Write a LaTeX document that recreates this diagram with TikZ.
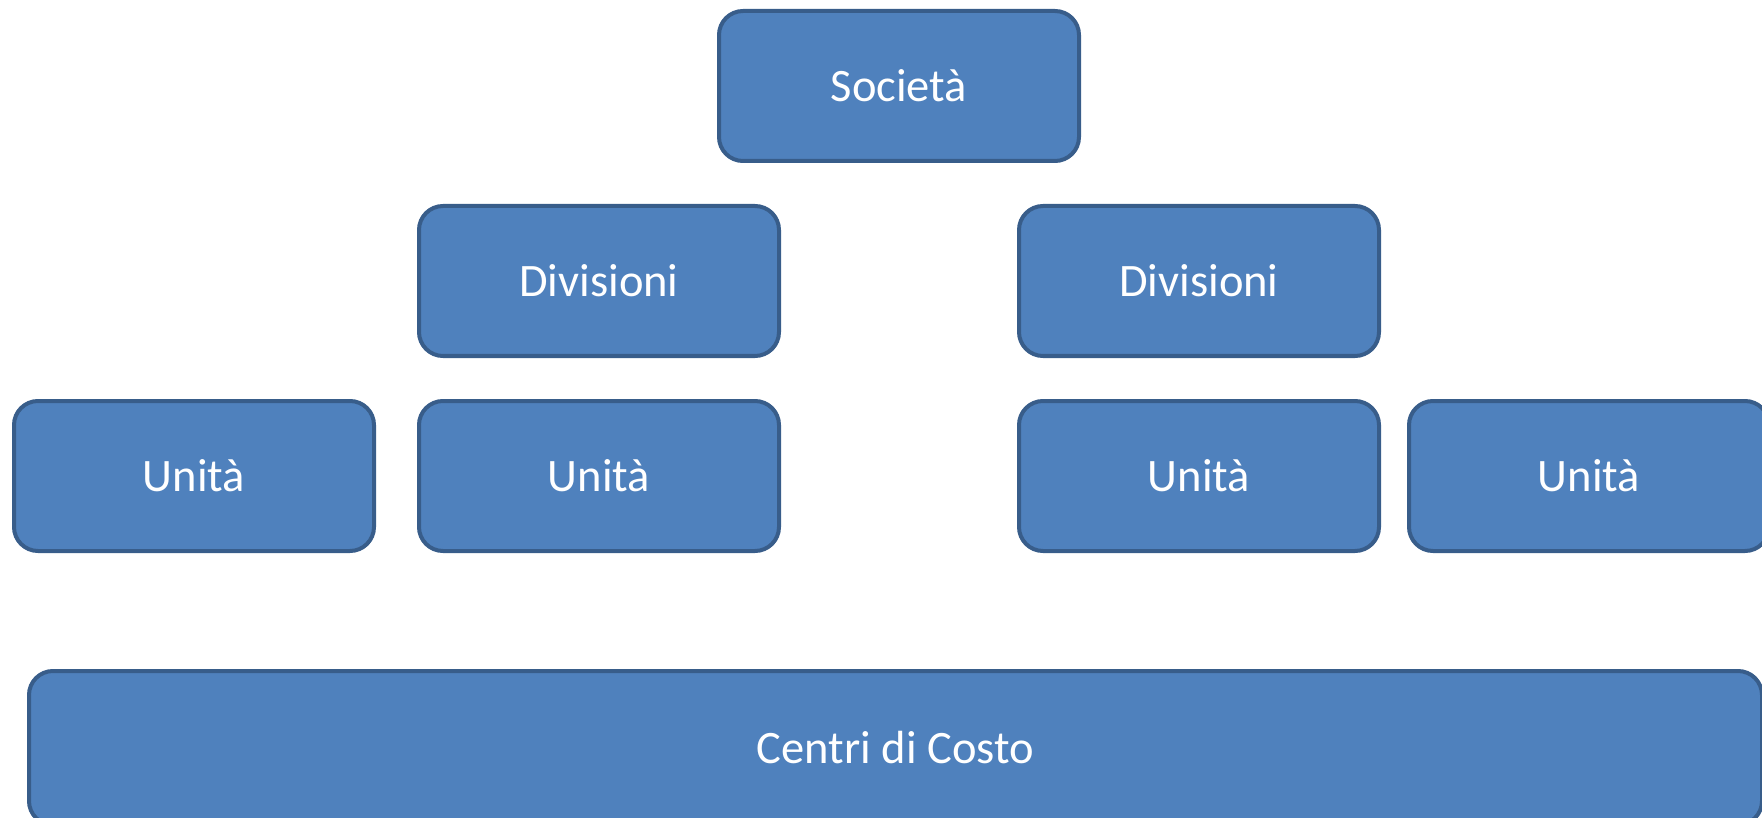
\documentclass[tikz,border=0pt]{standalone}
\usepackage{fontspec}
\setmainfont{Carlito}
\usetikzlibrary{positioning}
\definecolor{boxfill}{HTML}{4F81BD}
\definecolor{boxline}{HTML}{385D8A}
\begin{document}
\begin{tikzpicture}[x=1pt,y=1pt,node distance=45pt,every node/.style = {draw=boxline, fill=boxfill, line width=4pt, rounded corners=24pt, text=white, font=\fontsize{46.5}{56}\selectfont, inner sep=0pt, outer sep=0pt},orgbox/.style={minimum width=360pt, minimum height=150pt}]
\useasboundingbox (0,0) rectangle (1762,-818);
\node[orgbox](soc) at (899,-86) {Società};
\node[orgbox, below=of soc, xshift=-300pt](divA) {Divisioni};
\node[orgbox, below=of soc, xshift=300pt](divB) {Divisioni};
\node[orgbox, below=of divA](unB) {Unità};
\node[orgbox, left=of unB](unA) {Unità};
\node[orgbox, below=of divB](unC) {Unità};
\node[orgbox, right=30pt of unC](unD) {Unità};
\node[minimum width=1733pt, minimum height=154pt](centri) at (895.5,-748) {Centri di Costo};
\end{tikzpicture}
\end{document}
